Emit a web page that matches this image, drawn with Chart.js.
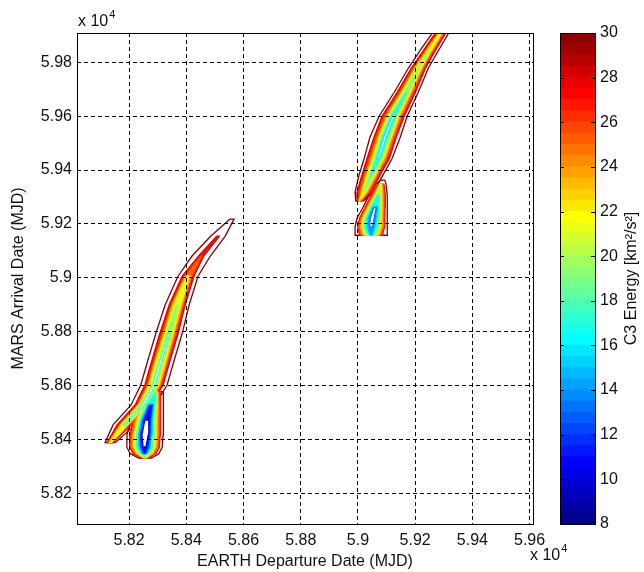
<!DOCTYPE html>
<html><head><meta charset="utf-8">
<script src="https://cdn.jsdelivr.net/npm/chart.js@4"></script>
<style>
html,body{margin:0;padding:0;background:#fff;}
#wrap{position:relative;width:644px;height:572px;background:#fff;}
#main{position:absolute;left:0;top:0;}
#cbar{position:absolute;left:540px;top:0;}
</style></head><body>
<div id="wrap"><canvas id="main" width="644" height="572"></canvas><canvas id="cbar" width="104" height="572"></canvas></div>
<script>
// ---------- axis ticks ----------
const xTickValues = [58200, 58400, 58600, 58800, 59000, 59200, 59400, 59600];
const xTickLabels = ['5.82', '5.84', '5.86', '5.88', '5.9', '5.92', '5.94', '5.96'];
const yTickValues = [58200, 58400, 58600, 58800, 59000, 59200, 59400, 59600, 59800];
const yTickLabels = ['5.82', '5.84', '5.86', '5.88', '5.9', '5.92', '5.94', '5.96', '5.98'];
const xRange = [58018, 59612];
const yRange = [58086, 59909];
const cbRange = [8, 30];
const cbTickValues = [8, 10, 12, 14, 16, 18, 20, 22, 24, 26, 28, 30];

// ---------- contour data (MJD): spine points + half-widths per C3 level ----------
// lower-left streak
const llSpineX = [58560, 58511, 58452, 58406, 58368, 58340, 58312, 58287, 58249, 58183, 58134];
const llSpineY = [59218, 59155, 59081, 59006, 58899, 58795, 58695, 58602, 58528, 58454, 58388];
const llLevels = [30, 28, 26, 24, 22, 20, 18];
const llHalfWidths = [
  [7, 25, 32, 35, 42, 46, 46, 46, 42, 39, 18],
  [0, 5, 9, 21, 28, 32, 32, 32, 28, 25, 11],
  [0, 0, 3, 14, 21, 25, 25, 25, 21, 18, 7],
  [0, 0, 0, 10, 18, 19, 21, 21, 18, 14, 5],
  [0, 0, 0, 5, 12, 14, 16, 16, 14, 11, 2],
  [0, 0, 0, 0, 5, 8, 9, 10, 10, 6, 0],
  [0, 0, 0, 0, 0, 3, 4, 5, 5, 3, 0]
];
// lower-left blob
const llBlobX = [58292, 58276, 58262, 58256, 58254, 58254, 58256];
const llBlobY = [58577, 58528, 58472, 58417, 58372, 58347, 58331];
const llBlobLevels = [30, 27, 24, 21, 18, 15, 12, 10];
const llBlobHalfWidths = [
  [28, 44, 58, 63, 62, 50, 22],
  [18, 34, 47, 53, 52, 40, 12],
  [10, 27, 39, 44, 43, 30, 6],
  [5, 21, 31, 35, 35, 22, 3],
  [2, 15, 25, 28, 28, 15, 0],
  [0, 10, 18, 22, 19, 8, 0],
  [0, 5, 12, 16, 12, 3, 0],
  [0, 0, 7, 11, 5, 0, 0]
];
// upper-right streak
const urSpineX = [59295, 59250, 59211, 59169, 59123, 59095, 59071, 59046, 59022, 59006];
const urSpineY = [59919, 59845, 59778, 59689, 59600, 59522, 59444, 59382, 59319, 59286];
const urLevels = [30, 28, 26, 24, 22, 20, 18, 16];
const urHalfWidths = [
  [28, 32, 35, 42, 49, 53, 49, 42, 32, 14],
  [18, 21, 25, 32, 39, 39, 39, 32, 25, 9],
  [11, 14, 19, 25, 32, 33, 32, 25, 18, 5],
  [7, 11, 14, 19, 25, 26, 25, 19, 12, 3],
  [4, 5, 9, 14, 19, 21, 19, 14, 7, 1],
  [0, 2, 4, 9, 14, 16, 14, 9, 4, 0],
  [0, 0, 0, 4, 9, 11, 9, 4, 0, 0],
  [0, 0, 0, 0, 4, 5, 4, 0, 0, 0]
];
// upper-right blob
const urBlobX = [59088, 59080, 59071, 59060, 59050, 59046, 59046];
const urBlobY = [59363, 59348, 59307, 59262, 59222, 59188, 59158];
const urBlobLevels = [30, 27, 24, 21, 18, 15, 13];
const urBlobHalfWidths = [
  [6, 18, 32, 42, 53, 56, 56],
  [0, 11, 25, 35, 44, 47, 40],
  [0, 6, 17, 28, 37, 39, 30],
  [0, 2, 10, 22, 30, 31, 20],
  [0, 0, 4, 15, 22, 22, 11],
  [0, 0, 0, 9, 14, 12, 4],
  [0, 0, 0, 4, 7, 5, 0]
];

// ---------- helpers ----------
function clamp01(v) { return Math.max(0, Math.min(1, v)); }
function jetRGB(v) {
  const t = (v - cbRange[0]) / (cbRange[1] - cbRange[0]);
  return [
    clamp01(Math.min(4 * t - 1.5, -4 * t + 4.5)),
    clamp01(Math.min(4 * t - 0.5, -4 * t + 3.5)),
    clamp01(Math.min(4 * t + 0.5, -4 * t + 2.5))
  ].map(c => Math.round(c * 255));
}
function jet(v) { const c = jetRGB(v); return 'rgb(' + c.join(',') + ')'; }
function contourPolygon(sx, sy, hw) {
  const idx = [];
  for (let i = 0; i < hw.length; i++) if (hw[i] > 0) idx.push(i);
  const pts = [];
  idx.forEach(i => pts.push({ x: sx[i] - hw[i], y: sy[i] }));
  idx.slice().reverse().forEach(i => pts.push({ x: sx[i] + hw[i], y: sy[i] }));
  if (pts.length) pts.push(pts[0]);
  return pts;
}
const lobes = [
  { sx: llSpineX, sy: llSpineY, levels: llLevels, widths: llHalfWidths },
  { sx: llBlobX, sy: llBlobY, levels: llBlobLevels, widths: llBlobHalfWidths },
  { sx: urSpineX, sy: urSpineY, levels: urLevels, widths: urHalfWidths },
  { sx: urBlobX, sy: urBlobY, levels: urBlobLevels, widths: urBlobHalfWidths }
];
const datasets = [];
lobes.forEach(l => {
  const n = l.levels.length;
  l.levels.forEach((lev, k) => {
    const outer = k === 0, inner = k === n - 1;
    const bandColor = inner ? '#ffffff' : jet((lev + l.levels[k + 1]) / 2);
    datasets.push({
      data: contourPolygon(l.sx, l.sy, l.widths[k]),
      showLine: true, tension: 0,
      fill: outer ? false : 'shape',
      backgroundColor: bandColor,
      borderColor: jet(lev), borderWidth: outer ? 1.3 : 1.2,
      pointRadius: 0, pointHoverRadius: 0,
      order: lev
    });
  });
});

const FONT = '"Liberation Sans", Arial, sans-serif';
const TXT = '#111';
function fmt(vals, labels) { return v => { const i = vals.indexOf(v); return i >= 0 ? labels[i] : ''; }; }

const framePlugin = {
  id: 'frame',
  afterDraw(chart) {
    const { ctx, chartArea: a } = chart;
    ctx.save();
    ctx.strokeStyle = '#000'; ctx.lineWidth = 1;
    ctx.strokeRect(Math.round(a.left) + 0.5, Math.round(a.top) + 0.5, Math.round(a.right - a.left), Math.round(a.bottom - a.top));
    ctx.fillStyle = TXT;
    ctx.textBaseline = 'alphabetic'; ctx.textAlign = 'left';
    ctx.font = '16px ' + FONT;
    const w = ctx.measureText('x 10').width;
    ctx.fillText('x 10', 78, 26);
    ctx.fillText('x 10', 530, 560);
    ctx.font = '11px ' + FONT;
    ctx.fillText('4', 78 + w + 1, 18);
    ctx.fillText('4', 530 + w + 1, 552);
    ctx.restore();
  }
};

new Chart(document.getElementById('main'), {
  type: 'scatter',
  data: { datasets },
  options: {
    responsive: false, animation: false, events: [],
    layout: { padding: { left: 0, top: 33, right: 111, bottom: 0 } },
    plugins: { legend: { display: false }, tooltip: { enabled: false } },
    scales: {
      x: {
        type: 'linear', min: xRange[0], max: xRange[1],
        afterBuildTicks: s => { s.ticks = xTickValues.map(v => ({ value: v })); },
        afterFit: s => { s.height = 48; },
        ticks: { callback: fmt(xTickValues, xTickLabels), font: { family: FONT, size: 16 }, color: TXT, padding: 7, maxRotation: 0, autoSkip: false },
        grid: { color: '#000', lineWidth: 1, drawTicks: false, borderDash: [4, 3], z: 1 },
        border: { display: false, dash: [4, 3] },
        title: { display: true, text: 'EARTH Departure Date (MJD)', font: { family: FONT, size: 16 }, color: TXT, padding: { top: 0, bottom: 1 } }
      },
      y: {
        type: 'linear', min: yRange[0], max: yRange[1],
        afterBuildTicks: s => { s.ticks = yTickValues.map(v => ({ value: v })); },
        afterFit: s => { s.width = 77; },
        ticks: { callback: fmt(yTickValues, yTickLabels), font: { family: FONT, size: 16 }, color: TXT, padding: 5, autoSkip: false },
        grid: { color: '#000', lineWidth: 1, drawTicks: false, borderDash: [4, 3], z: 1 },
        border: { display: false, dash: [4, 3] },
        title: { display: true, text: 'MARS Arrival Date (MJD)', font: { family: FONT, size: 16 }, color: TXT, padding: { top: 9, bottom: 0 } }
      }
    }
  },
  plugins: [framePlugin]
});

// ---------- colorbar ----------
const cbStep = 0.5;
const cbDatasets = [];
for (let v = cbRange[0]; v < cbRange[1] - 1e-9; v += cbStep) {
  cbDatasets.push({ data: [[v, v + cbStep]], backgroundColor: jet(v + cbStep / 2), borderWidth: 0, inflateAmount: 0.6, grouped: false, barPercentage: 1, categoryPercentage: 1 });
}
const cbPlugin = {
  id: 'cbframe',
  afterDraw(chart) {
    const { ctx, chartArea: a } = chart;
    const ys = chart.scales.y;
    ctx.save();
    ctx.strokeStyle = '#000'; ctx.lineWidth = 1;
    ctx.strokeRect(Math.round(a.left) + 0.5, Math.round(a.top) + 0.5, Math.round(a.right - a.left), Math.round(a.bottom - a.top));
    cbTickValues.forEach(v => {
      const y = Math.round(ys.getPixelForValue(v)) + 0.5;
      ctx.beginPath();
      ctx.moveTo(a.left, y); ctx.lineTo(a.left + 4, y);
      ctx.moveTo(a.right - 4, y); ctx.lineTo(a.right, y);
      ctx.stroke();
    });
    ctx.fillStyle = TXT;
    ctx.font = '16px ' + FONT;
    ctx.translate(92, (a.top + a.bottom) / 2);
    ctx.rotate(-Math.PI / 2);
    ctx.textAlign = 'center'; ctx.textBaseline = 'middle';
    ctx.fillText('C3 Energy [km²/s²]', 0, 0);
    ctx.restore();
  }
};
new Chart(document.getElementById('cbar'), {
  type: 'bar',
  data: { labels: ['c3'], datasets: cbDatasets },
  options: {
    responsive: false, animation: false, events: [],
    layout: { padding: { left: 20, top: 33, right: 0, bottom: 48 } },
    plugins: { legend: { display: false }, tooltip: { enabled: false } },
    scales: {
      x: { display: false },
      y: {
        position: 'right', min: cbRange[0], max: cbRange[1],
        afterBuildTicks: s => { s.ticks = cbTickValues.map(v => ({ value: v })); },
        afterFit: s => { s.width = 49; },
        grid: { display: false, drawTicks: false },
        border: { display: false },
        ticks: { font: { family: FONT, size: 16 }, color: TXT, padding: 5, autoSkip: false }
      }
    }
  },
  plugins: [cbPlugin]
});
</script></body></html>
